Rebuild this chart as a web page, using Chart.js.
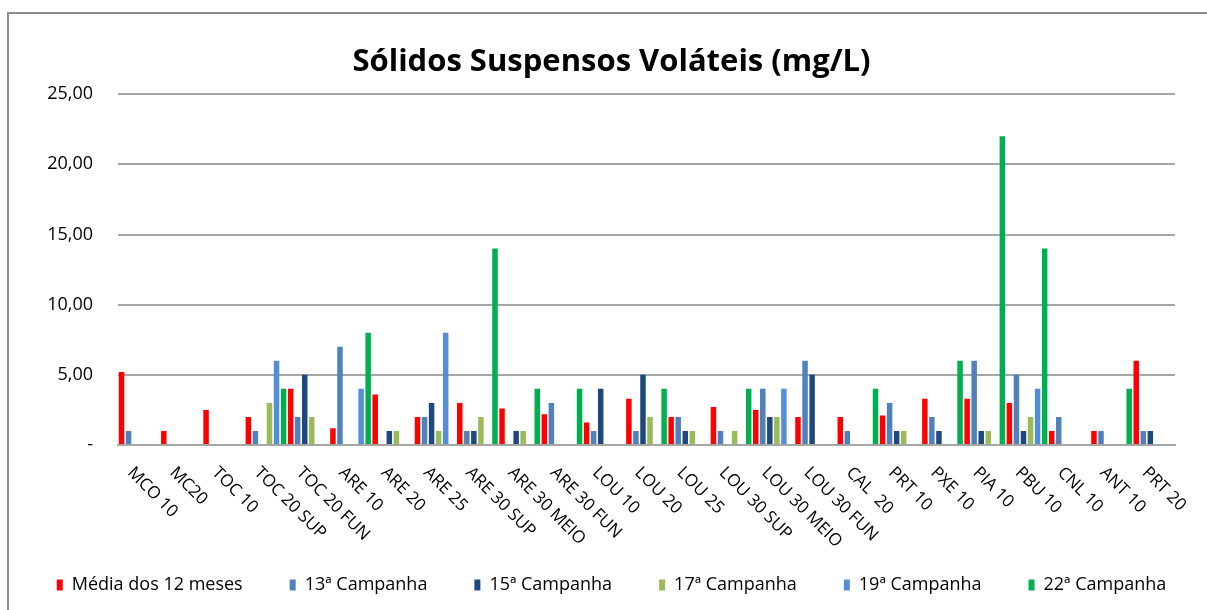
<!DOCTYPE html>
<html>
<head>
<meta charset="utf-8">
<script src="https://cdn.jsdelivr.net/npm/chart.js@4.4.0/dist/chart.umd.min.js"></script>
<style>
  html, body { margin: 0; padding: 0; background: #fff; overflow: hidden; }
  #wrap { position: relative; width: 1207px; height: 610px; }
  #moldura { position: absolute; left: 7px; top: 12px; width: 1220px; height: 620px;
             border-left: 2px solid #8c8c8c; border-top: 2px solid #8c8c8c; }
  canvas { position: absolute; left: 0; top: 0; }
</style>
</head>
<body>
<div id="wrap">
  <div id="moldura"></div>
  <canvas id="grafico" width="1207" height="610"></canvas>
</div>
<script>
// pontos de coleta (eixo x)
const pontos = ['MCO 10', 'MC20', 'TOC 10', 'TOC 20 SUP', 'TOC 20 FUN', 'ARE 10', 'ARE 20', 'ARE 25',
  'ARE 30 SUP', 'ARE 30 MEIO', 'ARE 30 FUN', 'LOU 10', 'LOU 20', 'LOU 25', 'LOU 30 SUP', 'LOU 30 MEIO',
  'LOU 30 FUN', 'CAL  20', 'PRT 10', 'PXE 10', 'PIA 10', 'PBU 10', 'CNL 10', 'ANT 10', 'PRT 20'];

// valores em mg/L (null = sem barra)
const media12 = [5.2, 1.0, 2.5, 2.0, 4.0, 1.2, 3.6, 2.0, 3.0, 2.6, 2.2, 1.6, 3.3, 2.0, 2.7, 2.5, 2.0, 2.0, 2.1, 3.3, 3.3, 3.0, 1.0, 1.0, 6.0];
const camp13 = [1, null, null, 1, 2, 7, null, 2, 1, null, 3, 1, 1, 2, 1, 4, 6, 1, 3, 2, 6, 5, 2, 1, 1];
const camp15 = [null, null, null, null, 5, null, 1, 3, 1, 1, null, 4, 5, 1, null, 2, 5, null, 1, 1, 1, 1, null, null, 1];
const camp17 = [null, null, null, 3, 2, null, 1, 1, 2, 1, null, null, 2, 1, 1, 2, null, null, 1, null, 1, 2, null, null, null];
const camp19 = [null, null, null, 6, null, 4, null, 8, null, null, null, null, null, null, null, 4, null, null, null, null, null, 4, null, null, null];
const camp22 = [null, null, null, 4, null, 8, null, null, 14, 4, 4, null, 4, null, 4, null, null, 4, null, 6, 22, 14, null, 4, null];

const nomesSeries = ['Média dos 12 meses', '13ª Campanha', '15ª Campanha', '17ª Campanha', '19ª Campanha', '22ª Campanha'];
const coresSeries = ['#ff0000', '#4f81bd', '#1f497d', '#9bbb59', '#558ed5', '#00b050'];
const rotulosY = ['-', '5,00', '10,00', '15,00', '20,00', '25,00'];

const fonte = '"Open Sans", "DejaVu Sans", sans-serif';

const valores = [media12, camp13, camp15, camp17, camp19, camp22];
const datasets = valores.map((dados, i) => ({
  label: nomesSeries[i],
  data: dados,
  backgroundColor: coresSeries[i],
  borderWidth: 0,
  barPercentage: 0.78,
  categoryPercentage: 1.0
}));

// rotulos do eixo x inclinados para baixo, comecando no ponto
const rotuloX = {
  id: 'rotuloX',
  afterLayout(chart) {
    // titulo e legenda ficam um pouco a direita, como no original
    ['titleBlock', 'legend'].forEach(k => {
      const caixa = chart[k];
      if (caixa) { caixa.left += 8; caixa.right += 8; }
    });
  },
  afterDraw(chart) {
    const c = chart.ctx;
    const escala = chart.scales.x;
    c.save();
    c.font = '17px ' + fonte;
    c.fillStyle = '#000';
    c.textAlign = 'left';
    c.textBaseline = 'top';
    pontos.forEach((nome, i) => {
      c.save();
      c.translate(escala.getPixelForValue(i) - 3, escala.top + 19);
      c.rotate(Math.PI / 4);
      c.fillText(nome, 0, 0);
      c.restore();
    });
    c.restore();
  }
};

const grafico = new Chart(document.getElementById('grafico'), {
  type: 'bar',
  data: { labels: pontos, datasets: datasets },
  options: {
    responsive: false,
    animation: false,
    layout: { padding: { top: 14, left: 0, right: 0, bottom: 6 } },
    plugins: {
      tooltip: { enabled: false },
      title: {
        display: true,
        text: 'Sólidos Suspensos Voláteis (mg/L)',
        color: '#000',
        font: { family: fonte, size: 31, weight: 'bold' },
        padding: { top: 30, bottom: 13 }
      },
      legend: {
        position: 'bottom',
        labels: {
          boxWidth: 6,
          boxHeight: 11,
          padding: 47,
          color: '#000',
          font: { family: fonte, size: 18 }
        }
      }
    },
    scales: {
      x: {
        ticks: { display: false },
        grid: { display: false },
        border: { display: true, color: '#a6a6a6', width: 2 },
        afterFit(s) { s.height = 84; }
      },
      y: {
        min: 0,
        max: 25,
        ticks: {
          stepSize: 5,
          padding: 25,
          color: '#000',
          font: { family: fonte, size: 18 },
          callback: v => rotulosY[v / 5]
        },
        grid: { color: '#a6a6a6', lineWidth: 2, drawTicks: false },
        border: { display: false },
        afterFit(s) { s.width = 118; }
      },
      yDir: {
        position: 'right',
        min: 0,
        max: 25,
        ticks: { display: false },
        grid: { display: false },
        border: { display: false },
        afterFit(s) { s.width = 32; }
      }
    }
  },
  plugins: [rotuloX]
});
</script>
</body>
</html>
